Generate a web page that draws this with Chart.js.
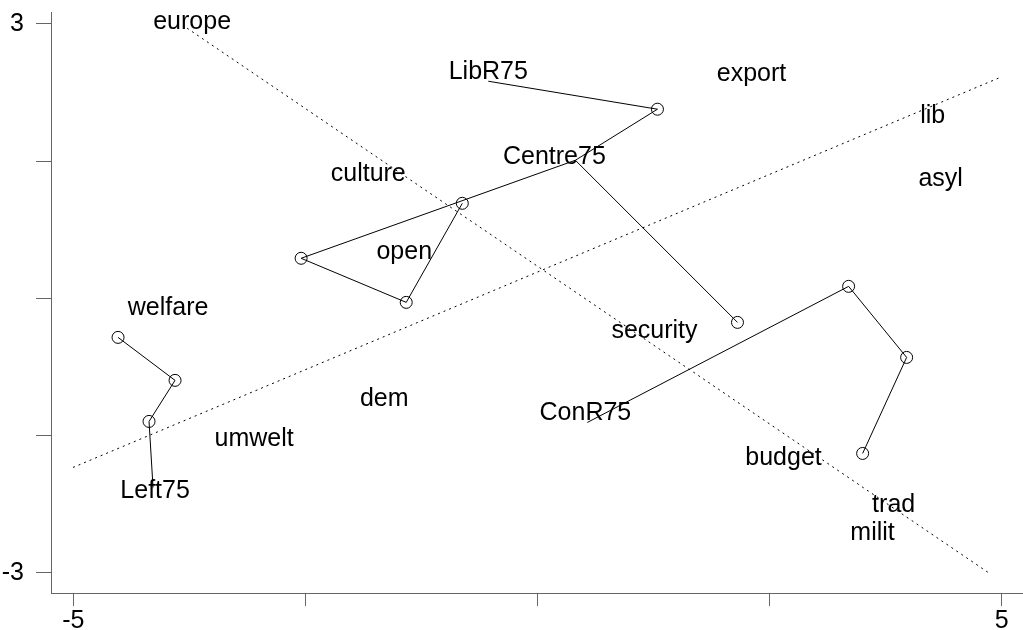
<!DOCTYPE html>
<html>
<head>
<meta charset="utf-8">
<script src="https://cdn.jsdelivr.net/npm/chart.js@4.4.1/dist/chart.umd.min.js"></script>
<style>
html,body{margin:0;padding:0;background:#fff;overflow:hidden;}
#wrap{width:1023px;height:630px;overflow:hidden;}
</style>
</head>
<body>
<div id="wrap"><canvas id="c" width="1031" height="630"></canvas></div>
<script>
// ---- data ----
const xTicks = [-5, -2.5, 0, 2.5, 5];
const yTicks = [-3, -1.5, 0, 1.5, 3];
const xTickLabels = ['-5', '', '', '', '5'];
const yTickLabels = ['-3', '', '', '', '3'];

// trajectories (x, y); last point is the 1975 position (no circle)
const leftX   = [-4.518, -3.904, -4.184, -4.141];
const leftY   = [-0.427, -0.897, -1.346, -2.068];
const conX    = [3.502, 3.976, 3.351, 0.537];
const conY    = [-1.696, -0.646, 0.131, -1.357];
const centreX = [-0.810, -1.414, -2.546, 0.408];
const centreY = [1.039, -0.044, 0.438, 1.510];
const libX    = [2.154, 0.408, 1.292, -0.530];
const libY    = [-0.263, 1.510, 2.068, 2.374];
const libCircles = [1, 0, 1, 0];

// reference axes (dotted)
const axis1X = [-3.774, 4.871];
const axis1Y = [2.954, -3.009];
const axis2X = [-5.003, 4.989];
const axis2Y = [-1.849, 2.418];

// text labels
const labelText = ['europe','LibR75','export','lib','asyl','Centre75','culture','open','welfare','security','dem','ConR75','umwelt','Left75','budget','trad','milit'];
const labelX = [-3.720, -0.530, 2.305, 4.256, 4.342, 0.182, -1.823, -1.435, -3.979, 1.260, -1.651, 0.516, -3.052, -4.119, 2.650, 3.836, 3.609];
const labelY = [3.020, 2.473, 2.451, 1.991, 1.302, 1.543, 1.357, 0.503, -0.109, -0.361, -1.105, -1.258, -1.543, -2.112, -1.751, -2.265, -2.571];

// ---- build ----
function pts(xs, ys){ return xs.map((x,i)=>({x:x, y:ys[i]})); }
const FONT = '"Liberation Sans", Arial, sans-serif';
const AXIS = '#666666';

function pathDS(xs, ys, circles){
  return {
    data: pts(xs, ys), showLine: true,
    borderColor: '#000', borderWidth: 1,
    pointRadius: circles ? circles.map(c=>c?6:0) : xs.map((_,i)=> i < xs.length-1 ? 6 : 0),
    pointBorderColor: '#000', pointBackgroundColor: 'rgba(0,0,0,0)', pointBorderWidth: 1,
    pointHoverRadius: 0, tension: 0
  };
}
function dotDS(xs, ys){
  return {
    data: pts(xs, ys), showLine: true,
    borderColor: '#000', borderWidth: 1, borderDash: [2,4],
    pointRadius: 0, pointHoverRadius: 0
  };
}

const labelPlugin = {
  id: 'wordLabels',
  afterDatasetsDraw(chart){
    const ctx = chart.ctx, xs = chart.scales.x, ys = chart.scales.y;
    ctx.save();
    ctx.fillStyle = '#000';
    ctx.font = '25px ' + FONT;
    ctx.textAlign = 'center';
    ctx.textBaseline = 'middle';
    labelText.forEach((t,i)=>{
      ctx.fillText(t, xs.getPixelForValue(labelX[i]), ys.getPixelForValue(labelY[i]));
    });
    ctx.restore();
  }
};

new Chart(document.getElementById('c'), {
  type: 'scatter',
  data: {
    datasets: [
      dotDS(axis1X, axis1Y),
      dotDS(axis2X, axis2Y),
      pathDS(leftX, leftY),
      pathDS(conX, conY),
      pathDS(centreX, centreY),
      pathDS(libX, libY, libCircles)
    ]
  },
  options: {
    responsive: false,
    devicePixelRatio: 1,
    animation: false,
    events: [],
    layout: { padding: { top: 12, right: 0, left: 0, bottom: 0 } },
    plugins: { legend: { display: false }, tooltip: { enabled: false } },
    scales: {
      x: {
        type: 'linear', min: -5.24, max: 5.24,
        afterBuildTicks: s => { s.ticks = xTicks.map(v=>({value:v})); },
        afterFit: s => { s.height = 37; s.paddingLeft = 0; s.paddingRight = 0; },
        ticks: {
          autoSkip: false, maxRotation: 0, padding: 0,
          color: '#000', font: { family: FONT, size: 25 },
          callback: (v) => xTickLabels[xTicks.indexOf(v)] ?? ''
        },
        grid: { drawOnChartArea: false, drawTicks: true, tickLength: 13, color: AXIS, lineWidth: 1 },
        border: { display: true, color: AXIS, width: 1 }
      },
      y: {
        type: 'linear', min: -3.222, max: 3.131,
        afterBuildTicks: s => { s.ticks = yTicks.map(v=>({value:v})); },
        afterFit: s => { s.width = 51; s.paddingTop = 0; s.paddingBottom = 0; },
        ticks: {
          autoSkip: false, padding: 12,
          color: '#000', font: { family: FONT, size: 25 },
          callback: (v) => yTickLabels[yTicks.indexOf(v)] ?? ''
        },
        grid: { drawOnChartArea: false, drawTicks: true, tickLength: 15, color: AXIS, lineWidth: 1 },
        border: { display: true, color: AXIS, width: 1 }
      }
    }
  },
  plugins: [labelPlugin]
});
</script>
</body>
</html>
